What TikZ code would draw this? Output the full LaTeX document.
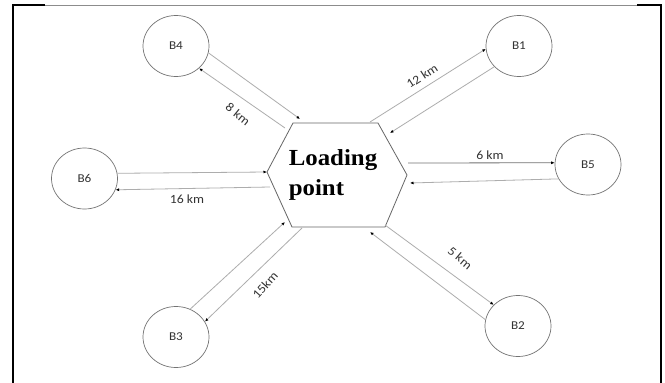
\documentclass[tikz,border=0pt]{standalone}
\usepackage{fontspec}
\setmainfont{Liberation Serif}
\newfontfamily\lblfont[FakeStretch=1.1]{Carlito}
\newfontfamily\hexfont[FakeStretch=1.08]{Liberation Serif}
\usetikzlibrary{arrows.meta,shapes.geometric}
\begin{document}
\begin{tikzpicture}[x=1pt,y=-1pt,
  bnode/.style={ellipse,draw=black!55,line width=0.7pt,minimum width=66pt,minimum height=61pt,inner sep=0pt,
    font=\lblfont\fontsize{12}{14}\selectfont,text=black!80},
  link/.style={draw=black!32,line width=0.8pt,-{Latex[length=3.5pt,width=3pt,color=black]}},
  lbl/.style={font=\lblfont\fontsize{12.5}{14}\selectfont,text=black!80,inner sep=0pt},
  hexline/.style={draw=black!60,line width=0.8pt}]
\useasboundingbox (0,0) rectangle (665,383);
\fill[white] (0,0) rectangle (665,383);
% frame
\draw[line width=2pt] (13,383) -- (13,4.25);
\draw[line width=1.5pt] (12,5) -- (45,5);
\draw[line width=0.5pt,black!45] (45,5) -- (637,5);
\draw[line width=1.5pt] (637,5) -- (661.5,5);
\draw[line width=2pt] (660.5,4.25) -- (660.5,383);
% circles
\node[bnode] (B4) at (176,46) {B4};
\node[bnode] (B1) at (519,46) {B1};
\node[bnode] (B6) at (84.5,178.5) {B6};
\node[bnode] (B5) at (588,164.5) {B5};
\node[bnode] (B3) at (176,337) {B3};
\node[bnode] (B2) at (518,326) {B2};
% hexagon
\coordinate (h1) at (293,123);
\coordinate (h2) at (378,123);
\coordinate (h3) at (407,175);
\coordinate (h4) at (385,227);
\coordinate (h5) at (292,227);
\coordinate (h6) at (267,172);
\draw[hexline] (h1) -- (h2) -- (h3) -- (h4) -- (h5) -- (h6) -- cycle;
\node[font=\hexfont\bfseries\fontsize{23}{30}\selectfont,align=left,inner sep=0pt] (lp) at (333,175) {Loading\\point};
% ports on hexagon
\coordinate (p4in) at (300,119);
\coordinate (p4out) at (285,128);
\coordinate (p1out) at (370,122);
\coordinate (p1in) at (390,133);
\coordinate (p5out) at (408,163);
\coordinate (p5in) at (410,183);
\coordinate (p6in) at (267,172);
\coordinate (p6out) at (270,187);
\coordinate (p3in) at (285,222);
\coordinate (p3out) at (302,228);
\coordinate (p2out) at (385,225);
\coordinate (p2in) at (370,232);
% connectors
\draw[link] (B4.-12) -- (p4in);
\draw[link] (p4out) -- (B4.-44);
\draw[link] (p1out) -- (B1.185);
\draw[link] (B1.220) -- (p1in);
\draw[link,draw=black!55] (p5out) -- (B5.177);
\draw[link] (B5.206) -- (p5in);
\draw[link] (B6.9) -- (p6in);
\draw[link] (p6out) -- (B6.-20);
\draw[link] (B3.63) -- (p3in);
\draw[link] (p3out) -- (B3.28);
\draw[link] (p2out) -- (B2.139);
\draw[link] (B2.169) -- (p2in);
% labels
\node[lbl,rotate=-39] (l8) at (238,114) {8 km};
\node[lbl,rotate=33] (l12) at (422,76) {12 km};
\node[lbl] (l6) at (490,155) {6 km};
\node[lbl] (l16) at (187,199) {16 km};
\node[lbl,rotate=48] (l15) at (265,285) {15km};
\node[lbl,rotate=-40] (l5) at (460,258) {5 km};
\end{tikzpicture}
\end{document}
